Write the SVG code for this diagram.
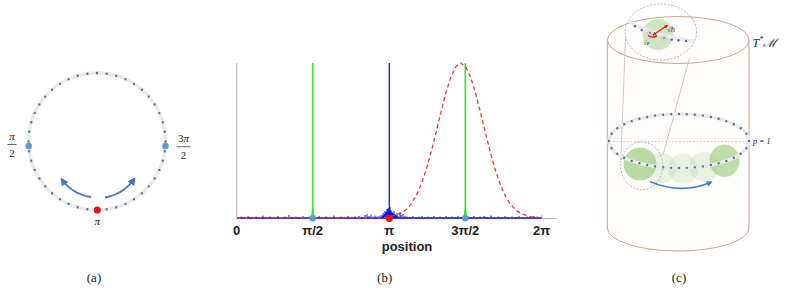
<svg xmlns="http://www.w3.org/2000/svg" width="785" height="295" viewBox="0 0 785 295">
<style>
.cap{font-family:"Liberation Serif",serif;font-size:13px;fill:#222;text-anchor:middle}
.math{font-family:"Liberation Serif","DejaVu Serif",serif;font-style:italic;fill:#222}
.num{font-family:"Liberation Serif",serif;fill:#222;text-anchor:middle}
.tick{font-family:"Liberation Sans",sans-serif;font-weight:bold;font-size:13px;fill:#222;text-anchor:middle}
.band{fill:none;stroke:#e6eaf1;stroke-width:3.5}
.dots{fill:none;stroke:#707070;stroke-width:2.4;stroke-linecap:round;stroke-dasharray:0 1}
.gdot{fill:#6b6b6b}
.thin{stroke:#bdbdbd;stroke-width:0.8;fill:none}
.dash{fill:none;stroke:#a8a8a8;stroke-width:0.9;stroke-dasharray:2 1.5}
</style>
<defs>
<marker id="arrA" viewBox="0 0 10 10" refX="8" refY="5" markerWidth="8" markerHeight="8" markerUnits="userSpaceOnUse" orient="auto"><path d="M0 0 L10 5 L0 10 z" fill="#4472c4"/></marker>
<marker id="arrC" viewBox="0 0 10 10" refX="8" refY="5" markerWidth="6" markerHeight="6" markerUnits="userSpaceOnUse" orient="auto"><path d="M0 0 L10 5 L0 10 z" fill="#3f7fc4"/></marker>
<marker id="arrR" viewBox="0 0 10 10" refX="8" refY="5" markerWidth="4" markerHeight="4" markerUnits="userSpaceOnUse" orient="auto-start-reverse"><path d="M0 0 L10 5 L0 10 z" fill="#e01e1e"/></marker>
</defs>
<rect width="785" height="295" fill="#ffffff"/>

<!-- Panel (a) -->
<g id="panel-a">
  <g id="ring-a">
    <circle cx="97" cy="141.5" r="68.5" class="band"/>
    <circle cx="97" cy="141.5" r="68.5" class="dots" pathLength="44"/>
  </g>
  <circle id="pt-left" cx="28.7" cy="146" r="3.3" fill="#5b9bd5"/>
  <circle id="pt-right" cx="165.5" cy="146" r="3.3" fill="#5b9bd5"/>
  <circle id="pt-bottom" cx="97.3" cy="210" r="3.6" fill="#ee1111"/>
  <g id="label-pi2">
    <text x="12" y="139.5" class="math" font-size="11" text-anchor="middle">π</text>
    <line x1="7.5" y1="144.5" x2="16.5" y2="144.5" stroke="#222" stroke-width="0.7"/>
    <text x="12" y="157.3" class="num" font-size="11">2</text>
  </g>
  <g id="label-3pi2">
    <text x="183.5" y="142" class="math" font-size="11" text-anchor="middle"><tspan font-style="normal">3</tspan>π</text>
    <line x1="176.7" y1="146.7" x2="190.5" y2="146.7" stroke="#222" stroke-width="0.7"/>
    <text x="183.5" y="158.5" class="num" font-size="11">2</text>
  </g>
  <text id="label-pi" x="97.3" y="225" class="math" font-size="11" text-anchor="middle">π</text>
  <g id="arrows-a">
    <path d="M91 197 Q72 194 61.5 179" fill="none" stroke="#4472c4" stroke-width="1.8" marker-end="url(#arrA)"/>
    <path d="M105 197.5 Q124 194 134.5 178.5" fill="none" stroke="#4472c4" stroke-width="1.8" marker-end="url(#arrA)"/>
  </g>
  <text x="94" y="282" class="cap">(a)</text>
</g>

<!-- Panel (b) -->
<g id="panel-b">
  <g id="axes">
    <line x1="236.7" y1="63" x2="236.7" y2="218.5" stroke="#b5b5b5" stroke-width="1"/>
    <line x1="236.7" y1="218.5" x2="557" y2="218.5" stroke="#b5b5b5" stroke-width="1"/>
    <line x1="541.7" y1="215" x2="541.7" y2="218.5" stroke="#b5b5b5" stroke-width="1"/>
  </g>
  <g id="blue-noise">
    <line x1="237" y1="218" x2="541.7" y2="218" stroke="#1414e6" stroke-width="1.4"/>
    <path d="M241 218v-1.5M245 218v-1M248 218v-2M252 218v-1M256 218v-1.5M259 218v-1M263 218v-2.5M267 218v-1M270 218v-1.5M274 218v-1M278 218v-2M281 218v-1M285 218v-1.5M289 218v-3M292 218v-1M296 218v-1.5M300 218v-1M303 218v-2M307 218v-1M310 218v-1.5M316 218v-1M319 218v-2M323 218v-1M326 218v-1.5M330 218v-1M334 218v-2.5M337 218v-1M341 218v-1.5M345 218v-1M348 218v-2M352 218v-1M355 218v-1.5M359 218v-2M362 218v-1M365 218v-3M367 218v-4M369 218v-2M371 218v-3.5M373 218v-1.5M375 218v-2.5M377 218v-1.5M379 218v-2M381 218v-3M383 218v-5M385 218v-7M386 218v-6M387 218v-9M388 218v-10M390 218v-11M391 218v-8M392 218v-6M393 218v-5M394 218v-7M395 218v-4M396 218v-3M397 218v-5M398 218v-2M400 218v-6M401 218v-3M403 218v-4M405 218v-2M407 218v-1.5M410 218v-1M413 218v-2M416 218v-1M419 218v-1.5M422 218v-2M425 218v-1M428 218v-1.5M431 218v-1M434 218v-2M437 218v-1M440 218v-1.5M443 218v-1M446 218v-2M449 218v-1M452 218v-1.5M455 218v-1M458 218v-2M461 218v-1M468 218v-1.5M471 218v-1M474 218v-2M477 218v-1M480 218v-1.5M484 218v-2M487 218v-1M491 218v-2.5M494 218v-1M498 218v-1.5M501 218v-1M505 218v-2M508 218v-1M512 218v-1.5M516 218v-1M519 218v-2M523 218v-1M527 218v-1.5M530 218v-1M534 218v-2M538 218v-1" stroke="#1414e6" stroke-width="1"/>
    <polygon points="380,218 383,215.5 385,213.5 387,211.5 389,208 391,211.5 393,213.5 396,215.5 399,218" fill="#1414e6"/>
    <line x1="389.3" y1="63" x2="389.3" y2="218" stroke="#1414e6" stroke-width="1.3"/>
  </g>
  <g id="green-lines">
    <line x1="312.7" y1="63" x2="312.7" y2="218" stroke="#2ee82e" stroke-width="1.6"/>
    <polygon points="310.7,218.5 312,209 313.4,209 314.7,218.5" fill="#2ee82e"/>
    <line x1="465.3" y1="63" x2="465.3" y2="218" stroke="#2ee82e" stroke-width="1.6"/>
    <polygon points="463.3,218.5 464.6,209 466,209 467.3,218.5" fill="#2ee82e"/>
  </g>
  <polyline id="gaussian" points="237,218 380.7,217.7 390.7,216.7 400.7,213.4 405.7,210 410.7,204.6 415.7,196.7 420.7,185.6 425.7,171.3 430.7,153.8 435.7,133.9 440.7,113.2 445.7,93.6 450.7,77.5 455.7,66.7 460.7,63 465.7,66.7 470.7,77.5 475.7,93.6 480.7,113.2 485.7,133.9 490.7,153.8 495.7,171.3 500.7,185.6 505.7,196.7 510.7,204.6 515.7,210 520.7,213.4 530.7,216.7 540.7,217.7 541.7,218" fill="none" stroke="#ee3333" stroke-width="1.3" stroke-dasharray="4 3"/>
  <circle cx="312.7" cy="218.3" r="3.3" fill="#5b9bd5"/>
  <circle cx="465.3" cy="218.3" r="3.3" fill="#5b9bd5"/>
  <circle cx="389.3" cy="218.3" r="3.6" fill="#ee1111"/>
  <g id="tick-labels">
    <text x="236.7" y="235" class="tick">0</text>
    <text x="312.7" y="235" class="tick">π/2</text>
    <text x="389.3" y="235" class="tick">π</text>
    <text x="465.3" y="235" class="tick">3π/2</text>
    <text x="541.7" y="235" class="tick">2π</text>
  </g>
  <text x="407" y="250.5" class="tick" font-size="14">position</text>
  <text x="384.7" y="282" class="cap">(b)</text>
</g>

<!-- Panel (c) -->
<g id="panel-c">
  <g id="cylinder">
    <path d="M607.3 40 L607.3 228 A70.8 23 0 0 0 749 228 L749 40" fill="#fffdfb" stroke="#c9a68e" stroke-width="1"/>
    <ellipse cx="678.2" cy="40" rx="70.8" ry="23.5" fill="#fffdfb" stroke="#c9a68e" stroke-width="1"/>
  </g>
  <g id="zoom-lines">
    <line x1="625.5" y1="38" x2="620.8" y2="160" class="thin"/>
    <line x1="689.5" y1="58" x2="663" y2="155" class="thin"/>
  </g>
  <g id="states">
    <circle cx="640" cy="164" r="16.5" fill="#a9d18e" fill-opacity="0.8"/>
    <circle cx="661.7" cy="168.3" r="15" fill="#a9d18e" fill-opacity="0.25"/>
    <circle cx="683" cy="169" r="15" fill="#a9d18e" fill-opacity="0.25"/>
    <circle cx="704.3" cy="166.7" r="15" fill="#a9d18e" fill-opacity="0.25"/>
    <ellipse cx="724.5" cy="160.8" rx="15" ry="16.3" fill="#a9d18e" fill-opacity="0.75"/>
  </g>
  <g id="ring-c">
    <ellipse cx="679" cy="141" rx="70" ry="27" class="band" stroke-width="3"/>
    <ellipse cx="679" cy="141" rx="70" ry="27" class="dots" stroke-width="2.2" pathLength="40"/>
  </g>
  <line id="p1-line" x1="609" y1="141.7" x2="748" y2="141.7" stroke="#bbbbbb" stroke-width="0.8" stroke-dasharray="2 1.5"/>
  <text x="753" y="144.3" class="math" font-size="8">p = 1</text>
  <ellipse id="lens-low" cx="641.7" cy="165.8" rx="21" ry="24" class="dash"/>
  <path id="shift-arrow" d="M650 181.5 Q681 195 711.5 182" fill="none" stroke="#3f7fc4" stroke-width="1.5" marker-end="url(#arrC)"/>
  <g id="lens-top">
    <ellipse cx="660.8" cy="32" rx="35.8" ry="28" fill="#ffffff" class="dash"/>
    <circle cx="658" cy="34.5" r="15.5" fill="#cfe4bf"/>
    <path d="M628 20.5 Q650 35 695 41.5" class="band" stroke-width="3"/>
    <circle cx="635" cy="26.3" r="1.2" class="gdot"/>
    <circle cx="641.7" cy="30" r="1.2" class="gdot"/>
    <circle cx="650" cy="33" r="2.2" fill="#ffffff" stroke="#9a9a9a" stroke-width="0.6"/>
    <circle cx="650" cy="33" r="1" class="gdot"/>
    <circle cx="664" cy="38" r="2.2" fill="#ffffff" stroke="#9a9a9a" stroke-width="0.6"/>
    <circle cx="664" cy="38" r="1" class="gdot"/>
    <circle cx="671.7" cy="39.6" r="1.2" class="gdot"/>
    <circle cx="678.5" cy="40.3" r="1.2" class="gdot"/>
    <circle cx="686" cy="41" r="1.2" class="gdot"/>
    <line x1="653" y1="35" x2="667.5" y2="25.3" stroke="#e01e1e" stroke-width="1.2" marker-start="url(#arrR)" marker-end="url(#arrR)"/>
    <path d="M648 35.5 Q652 38.5 657 36" fill="none" stroke="#e01e1e" stroke-width="1.4"/>
    <text x="667" y="32" class="math" font-size="7">√ℏ</text>
    <text x="643" y="45" class="math" font-size="7">√ε</text>
  </g>
  <text x="752.5" y="46.7" class="math" font-size="12">T<tspan font-size="8" dy="-4.5">*</tspan><tspan dy="4.5">ℳ</tspan></text>
  <text x="679" y="282" class="cap">(c)</text>
</g>
</svg>
